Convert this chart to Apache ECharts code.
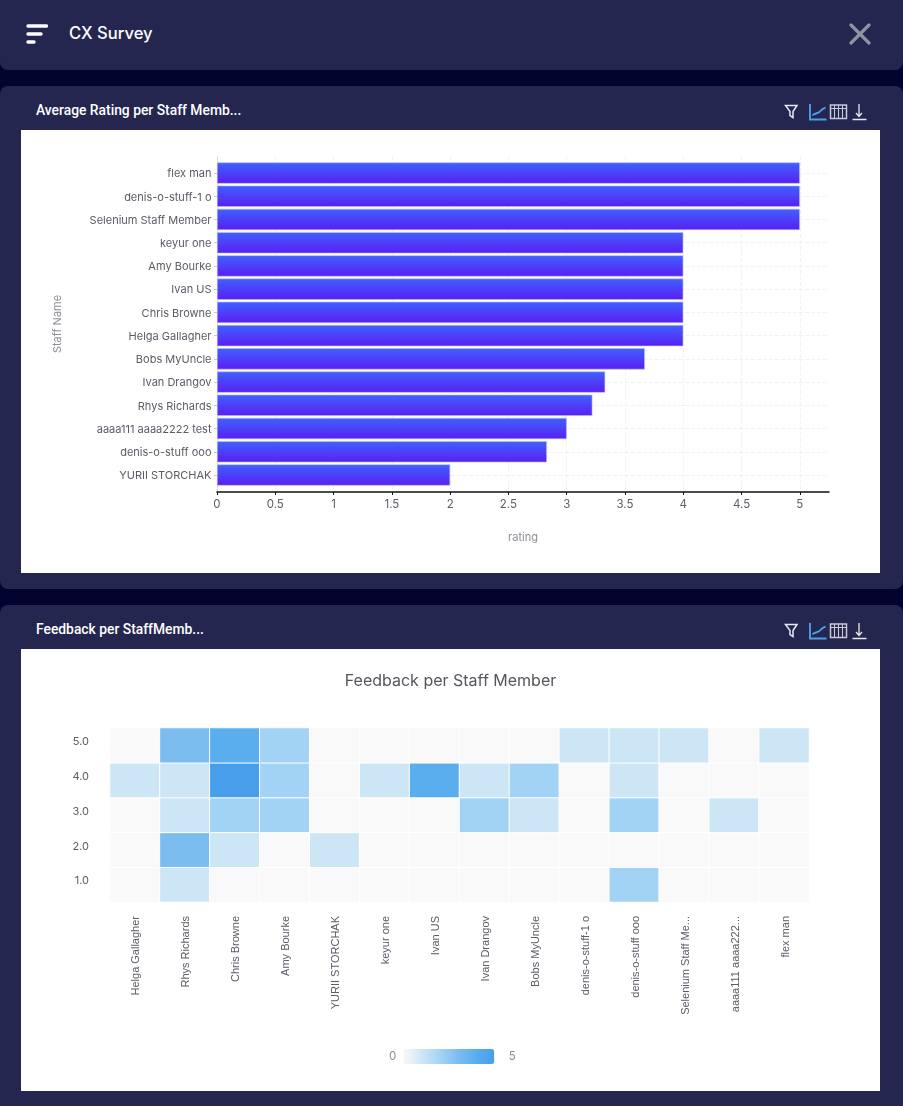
<!DOCTYPE html>
<html><head><meta charset="utf-8">
<style>
html,body{margin:0;padding:0;width:903px;height:1106px;background:#02032f;overflow:hidden}
.panel{position:absolute;left:0;width:903px;background:#24264f;border-radius:8px}
.white{position:absolute;left:21px;width:859px;background:#fff}
.ttl{position:absolute;left:36px;color:#fff;font:500 13.85px Roboto,sans-serif;white-space:nowrap}
.icons{position:absolute;left:784px;width:84px;height:20px}
#c1,#c2{position:absolute;left:0;top:0;width:859px}
</style>
<script src="https://cdn.jsdelivr.net/npm/echarts@6/dist/echarts.min.js"></script>
</head><body>
<div class="panel" style="top:0;height:70px;border-radius:0 0 8px 8px"></div>
<svg style="position:absolute;left:26px;top:24px" width="22" height="22" viewBox="0 0 22 22"><g stroke="#fff" stroke-width="3.4" stroke-linecap="round"><line x1="2" y1="2" x2="20.5" y2="2"/><line x1="2" y1="10" x2="15" y2="10"/><line x1="2" y1="18" x2="8" y2="18"/></g></svg>
<div style="position:absolute;left:69px;top:22px;color:#fff;font:500 16.6px Inter,sans-serif;line-height:22px">CX Survey</div>
<svg style="position:absolute;left:849px;top:23px" width="22" height="22" viewBox="0 0 22 22"><g stroke="#92939f" stroke-width="3.2" stroke-linecap="round"><line x1="2" y1="2" x2="20" y2="20"/><line x1="20" y1="2" x2="2" y2="20"/></g></svg>

<div class="panel" style="top:86px;height:503px"></div>
<div class="ttl" style="top:102px">Average Rating per Staff Memb...</div>
<div class="icons" style="top:101px" id="ic1"></div>
<div class="white" style="top:130px;height:443px"><div id="c1" style="height:443px"></div></div>

<div class="panel" style="top:605px;height:501px;border-radius:8px 8px 0 0"></div>
<div class="ttl" style="top:621px">Feedback per StaffMemb...</div>
<div class="icons" style="top:620px" id="ic2"></div>
<div class="white" style="top:649px;height:442px"><div id="c2" style="height:442px"></div></div>

<script>
const staffNames = ['flex man','denis-o-stuff-1 o','Selenium Staff Member','keyur one','Amy Bourke','Ivan US','Chris Browne','Helga Gallagher','Bobs MyUncle','Ivan Drangov','Rhys Richards','aaaa111 aaaa2222 test','denis-o-stuff ooo','YURII STORCHAK'];
const avgRating = [5,5,5,4,4,4,4,4,3.67,3.33,3.22,3,2.83,2];
const ratingTicks = [0,0.5,1,1.5,2,2.5,3,3.5,4,4.5,5];

const heatStaff = ['Helga Gallagher','Rhys Richards','Chris Browne','Amy Bourke','YURII STORCHAK','keyur one','Ivan US','Ivan Drangov','Bobs MyUncle','denis-o-stuff-1 o','denis-o-stuff ooo','Selenium Staff Me...','aaaa111 aaaa222...','flex man'];
const heatLevels = ['1.0','2.0','3.0','4.0','5.0'];
const row1 = [0,1,0,0,0,0,0,0,0,0,2,0,0,0];
const row2 = [0,3,1,0,1,0,0,0,0,0,0,0,0,0];
const row3 = [0,1,2,2,0,0,0,2,1,0,2,0,1,0];
const row4 = [1,1,5,2,0,1,4,1,2,0,1,0,0,0];
const row5 = [0,3,4,2,0,0,0,0,0,1,1,1,0,1];
const heatColors = ['#f9f9f9','#cde6f5','#a3d3f4','#7bbdef','#5aaeee','#479eea'];

const iconSvg = `<svg width="84" height="20" viewBox="0 0 84 20" fill="none" stroke="#e8e8ee" stroke-width="1.5">
<path d="M1.5 4.5H13L9 10.5V16.5L6 14.5V10.5Z"/>
<path d="M26 3V18.5H42.5" stroke="#4d9fe8" stroke-width="1.9"/><path d="M28.5 14.5C31 11.5 34 13 36 10.5S39 8 41.5 6.5" stroke="#4d9fe8" stroke-width="1.9"/>
<rect x="46.5" y="4" width="16" height="13.5" stroke="#c9c9d6"/><path d="M46.5 7.5H62.5M50.5 4V17.5M54.5 4V17.5M58.5 4V17.5" stroke="#c9c9d6" stroke-width="1.1"/>
<path d="M75 3V15M72 12L75 15.5L78 12" stroke-width="1.3"/><path d="M68.5 18.5H82.5"/></svg>`;
document.getElementById('ic1').innerHTML = iconSvg;
document.getElementById('ic2').innerHTML = iconSvg;

const lab = '#5a5c66';
const xMax = 5.25;
const chart1 = echarts.init(document.getElementById('c1'), null, {renderer:'canvas'});
chart1.setOption({
  animation:false,
  grid:[
    {left:196,right:51,top:26,bottom:81,containLabel:false},
    {left:196,right:51,top:31.4,bottom:86.4,containLabel:false}
  ],
  xAxis:[
    {gridIndex:0,type:'value',min:0,max:xMax,interval:0.5,
     name:'rating',nameLocation:'middle',nameGap:40,nameTextStyle:{color:'#8c8e98',fontFamily:'Inter',fontSize:11},
     axisLine:{show:true,onZero:false,lineStyle:{color:'#111',width:1.5}},
     axisTick:{show:true,length:3,lineStyle:{color:'#111'}},
     axisLabel:{color:lab,fontFamily:'Inter',fontSize:11.5,margin:7,
       showMaxLabel:false,formatter:v=>ratingTicks.includes(v)?String(v):''},
     splitLine:{show:true,showMaxLine:false,lineStyle:{color:'#f1f2f5',type:'dashed',width:1}}},
    {gridIndex:1,type:'value',min:0,max:xMax,show:false}
  ],
  yAxis:[
    {gridIndex:0,type:'value',min:0,max:1,show:true,axisLabel:{show:false},axisTick:{show:false},splitLine:{show:false},
     axisLine:{show:true,lineStyle:{color:'#dcdde3',width:1}}},
    {gridIndex:1,type:'category',inverse:true,data:staffNames,
     name:'Staff Name',nameLocation:'middle',nameGap:154,nameRotate:90,nameTextStyle:{color:'#8c8e98',fontFamily:'Inter',fontSize:11},
     axisLine:{show:false},
     axisTick:{show:true,alignWithLabel:true,length:3,lineStyle:{color:'#c8c9d0'}},
     axisLabel:{color:lab,fontFamily:'Inter',fontSize:11,margin:5.5,interval:0,letterSpacing:-0.3,verticalAlign:'top',lineHeight:2},
     splitLine:{show:true,alignWithLabel:true,interval:0,lineStyle:{color:'#f1f2f5',type:'dashed',width:1}}}
  ],
  series:[{type:'bar',xAxisIndex:1,yAxisIndex:1,data:avgRating,barWidth:21.2,
    itemStyle:{borderColor:'#b9bdf7',borderWidth:0.6,
      color:{type:'linear',x:0,y:0,x2:0,y2:1,colorStops:[{offset:0,color:'#3f62ff'},{offset:1,color:'#5a1ef2'}]}}}]
});

const heatData = [];
[row1,row2,row3,row4,row5].forEach((r,y)=>r.forEach((v,x)=>heatData.push([x,y,v])));
const chart2 = echarts.init(document.getElementById('c2'), null, {renderer:'canvas'});
chart2.setOption({
  animation:false,
  title:{text:'Feedback per Staff Member',left:'center',top:19,
    textStyle:{color:'#55575f',fontFamily:'Inter',fontWeight:'normal',fontSize:16}},
  grid:{left:89,right:71,top:79,bottom:189},
  xAxis:{type:'category',data:heatStaff,splitLine:{show:false},axisLine:{show:false},axisTick:{show:false},
    axisLabel:{rotate:90,interval:0,margin:14,color:lab,fontFamily:'Liberation Sans',fontSize:11,verticalAlign:'top',lineHeight:3}},
  yAxis:{type:'category',data:heatLevels,splitLine:{show:false},axisLine:{show:false},axisTick:{show:false},
    axisLabel:{color:lab,fontFamily:'Inter',fontSize:11,margin:21,verticalAlign:'bottom',lineHeight:7}},
  visualMap:{type:'continuous',min:0,max:5,calculable:false,orient:'horizontal',left:353,top:385,
    itemWidth:15,itemHeight:90,text:['  5','0'],textGap:8,textStyle:{color:'#8c8e98',fontFamily:'Inter',fontSize:11.5},
    inRange:{color:heatColors}},
  series:[{type:'heatmap',data:heatData,progressive:0,
    itemStyle:{borderColor:'#fff',borderWidth:1},emphasis:{disabled:true}}]
});
</script>
</body></html>
